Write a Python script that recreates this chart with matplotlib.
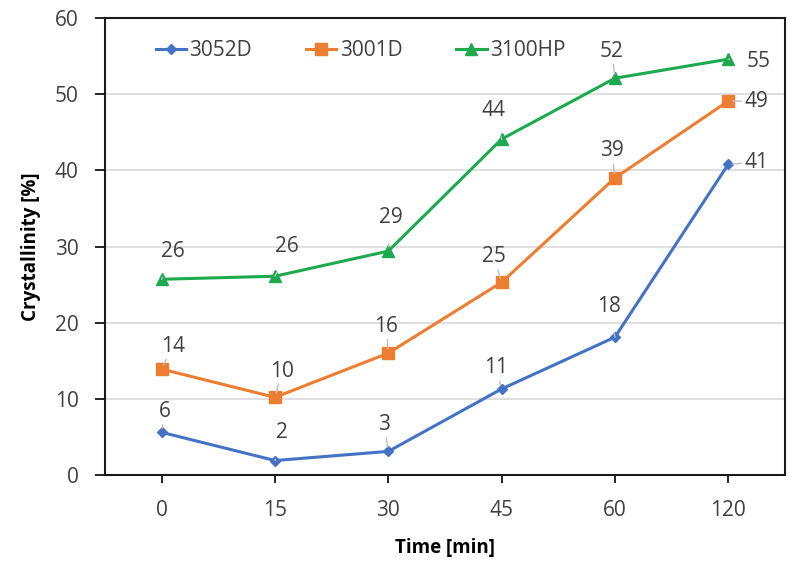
import matplotlib
matplotlib.use("Agg")
import matplotlib.pyplot as plt
import numpy as np

plt.rcParams['font.family'] = ['Open Sans', 'DejaVu Sans']

# data
times = ['0', '15', '30', '45', '60', '120']
s3052d = [5.6, 1.9, 3.1, 11.3, 18.1, 40.8]
s3001d = [13.9, 10.2, 16.0, 25.3, 39.0, 49.1]
s3100hp = [25.7, 26.1, 29.4, 44.1, 52.1, 54.6]
names = ['3052D', '3001D', '3100HP']

# label offsets in pixels (dx, dy)
off_3052d = [(3, 21), (7, 28), (-4, 27), (-6, 21), (-6, 31), (28, 2)]
off_3001d = [(11, 23), (7, 26), (-2, 27), (-8, 26), (-3, 27), (28, 0)]
off_3100hp = [(11, 28), (12, 30), (3, 34), (-8, 29), (-3, 27), (30, -2)]

colors = ['#4472C4', '#ED7D31', '#1DAA4E']
markers = ['D', 's', '^']
msizes = [5, 8, 8]

fig = plt.figure(figsize=(7.98, 5.64), dpi=100)
ax = fig.add_axes([0.1316, 0.1578, 0.852, 0.8102])

x = np.arange(len(times))
series = [s3052d, s3001d, s3100hp]
offs = [off_3052d, off_3001d, off_3100hp]
for vals, name, c, m, ms, off in zip(series, names, colors, markers, msizes, offs):
    ax.plot(x, vals, color=c, marker=m, markersize=ms, linewidth=2.2, label=name, zorder=3)
    for xi, v, (dx, dy) in zip(x, vals, off):
        ax.annotate(str(int(round(v))), (xi, v), xytext=(dx, dy), textcoords='offset pixels',
                    ha='center', va='center', fontsize=15, color='#404040',
                    arrowprops=dict(arrowstyle='-', color='#bfbfbf', lw=1, shrinkA=10, shrinkB=3))

ax.set_xlim(-0.5, 5.5)
ax.set_ylim(0, 60)
ax.set_yticks(np.arange(0, 61, 10))
ax.set_xticks(x)
ax.set_xticklabels(times)
ax.yaxis.grid(True, color='#d9d9d9', linewidth=1.2)
ax.set_axisbelow(True)
for sp in ax.spines.values():
    sp.set_linewidth(1.5)
    sp.set_color('#1a1a1a')
ax.tick_params(axis='both', labelsize=15, labelcolor='#404040', direction='out', width=1.2)
ax.tick_params(axis='y', length=7, pad=12)
ax.tick_params(axis='x', length=6, pad=12)

ax.set_xlabel('Time [min]', fontsize=13.5, fontweight='bold', labelpad=12)
ax.set_ylabel('Crystallinity [%]', fontsize=13.5, fontweight='bold', labelpad=10)

ax.legend(loc='center', bbox_to_anchor=(0.376, 0.928), ncol=3, frameon=False,
          fontsize=15, handlelength=1.45, handletextpad=0.15, columnspacing=2.6,
          labelcolor='#404040')

fig.savefig('out.png', dpi=100)
